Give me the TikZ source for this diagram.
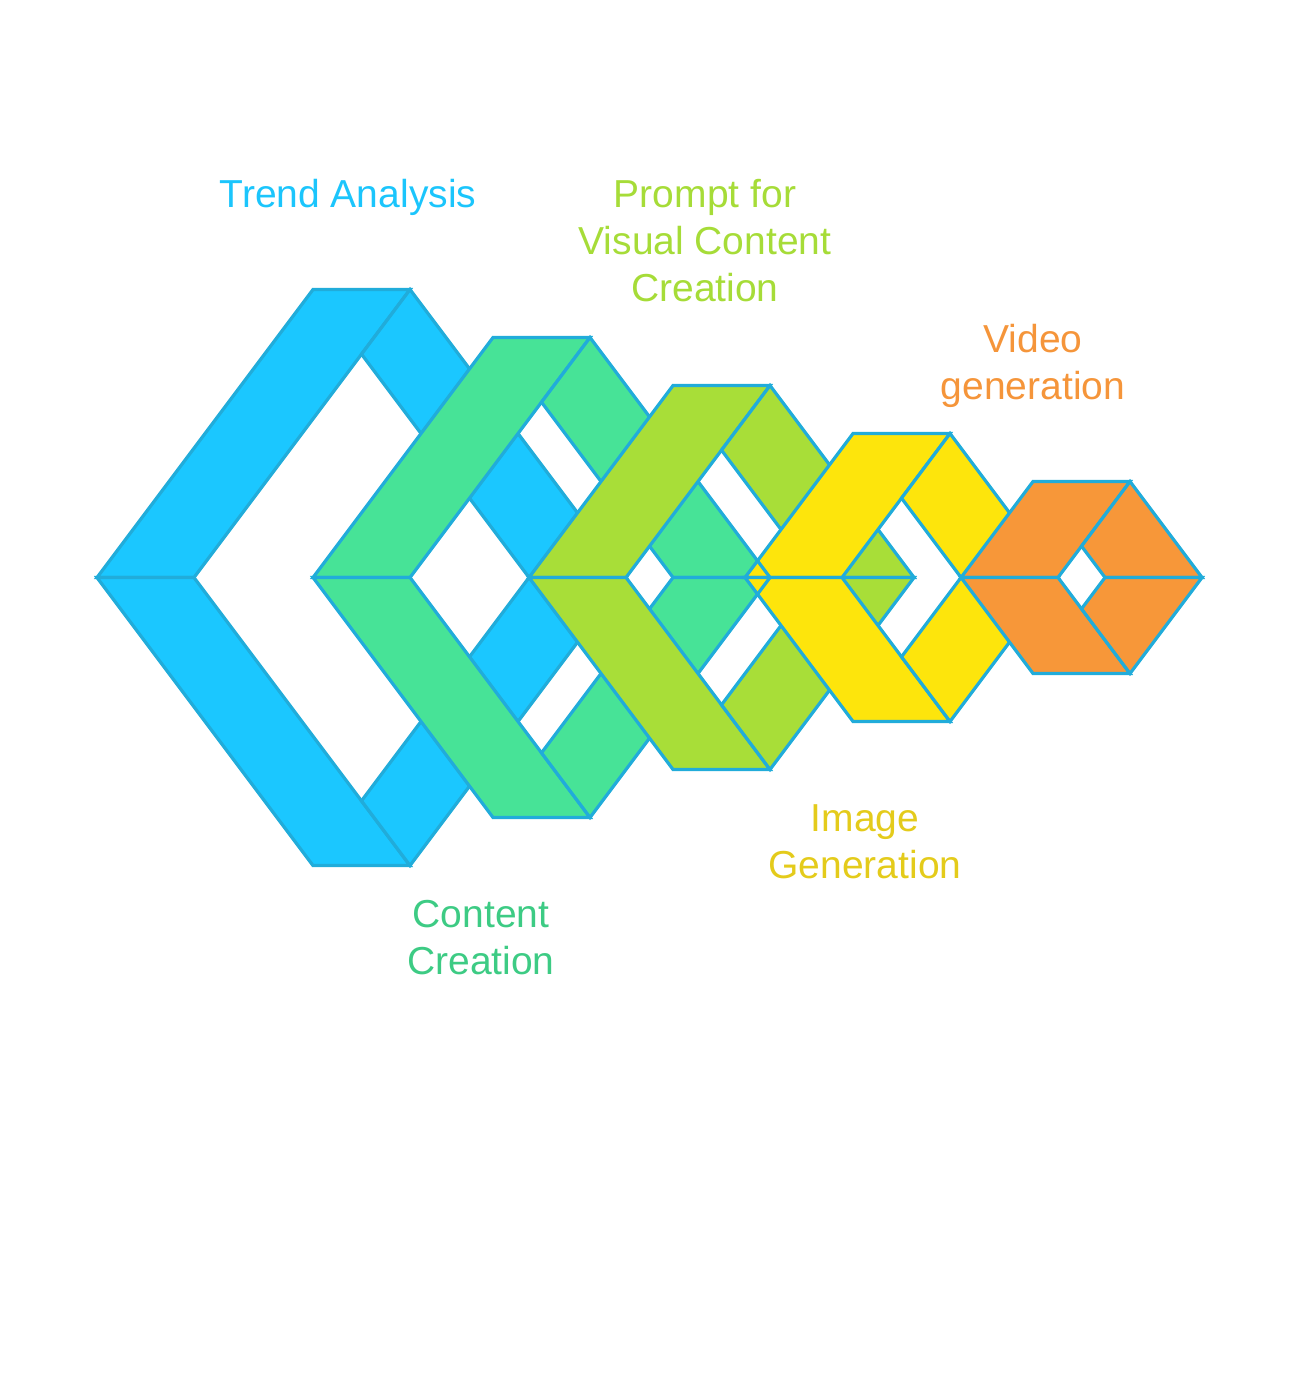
\documentclass[tikz,border=0pt]{standalone}
\usepackage{fontspec}
\setmainfont{Liberation Sans}
\usetikzlibrary{calc}
\definecolor{edgeC}{RGB}{33,172,218}
\definecolor{fBlue}{RGB}{27,199,255}
\definecolor{fGreen}{RGB}{71,227,151}
\definecolor{fLime}{RGB}{168,222,56}
\definecolor{fYellow}{RGB}{253,229,12}
\definecolor{fOrange}{RGB}{247,151,57}
\definecolor{tBlue}{RGB}{27,197,252}
\definecolor{tGreen}{RGB}{61,203,132}
\definecolor{tLime}{RGB}{166,220,56}
\definecolor{tYellow}{RGB}{228,203,27}
\definecolor{tOrange}{RGB}{245,149,58}
\newcommand{\shpW}{97}
\newcommand{\shpY}{577.5}
\newcommand{\ringshape}[4]{%
  \pgfmathsetmacro{\shpX}{#2}%
  \pgfmathsetmacro{\shpH}{#3}%
  \pgfmathsetmacro{\shpA}{0.75*#3}%
  \pgfmathsetmacro{\shpT}{#3*(1-\shpW/(2*\shpA))}%
  \coordinate (#1L) at (\shpX,\shpY);
  \coordinate (#1TL) at (\shpX+\shpA,\shpY-\shpH);
  \coordinate (#1TR) at (\shpX+\shpA+\shpW,\shpY-\shpH);
  \coordinate (#1R) at (\shpX+2*\shpA+\shpW,\shpY);
  \coordinate (#1BR) at (\shpX+\shpA+\shpW,\shpY+\shpH);
  \coordinate (#1BL) at (\shpX+\shpA,\shpY+\shpH);
  \coordinate (#1IL) at (\shpX+\shpW,\shpY);
  \coordinate (#1HR) at (\shpX+2*\shpA,\shpY);
  \coordinate (#1HT) at (\shpX+\shpA+\shpW/2,\shpY-\shpT);
  \coordinate (#1HB) at (\shpX+\shpA+\shpW/2,\shpY+\shpT);
  \path[face,fill=#4] (#1L) -- (#1TL) -- (#1TR) -- (#1IL) -- cycle;
  \path[face,fill=#4] (#1L) -- (#1IL) -- (#1BR) -- (#1BL) -- cycle;
  \path[face,fill=#4] (#1TR) -- (#1R) -- (#1HR) -- (#1HT) -- cycle;
  \path[face,fill=#4] (#1HB) -- (#1HR) -- (#1R) -- (#1BR) -- cycle;
}
\tikzset{
  edge/.style={draw=edgeC, line width=1.6pt, line join=miter},
  face/.style={edge},
  lbl/.style={anchor=north, inner sep=0pt, align=center,
    font=\fontsize{19.5pt}{23.5pt}\selectfont}
}
\begin{document}
\begin{tikzpicture}[x=0.5pt,y=-0.5pt]
\useasboundingbox (0,0) rectangle (1300,1396);
\ringshape{b}{97}{288}{fBlue}
\ringshape{g}{313}{240}{fGreen}
\ringshape{l}{529}{192}{fLime}
\ringshape{y}{745}{144}{fYellow}
\draw[edge] ($(gR)!0.0694!(gTR)$) -- (gR) -- ($(gR)!0.0694!(gBR)$);
\ringshape{o}{961}{96}{fOrange}
\node[lbl, text=tBlue] (tTrend) at (348,179) {Trend Analysis};
\node[lbl, text=tLime] (tPrompt) at (705,179) {Prompt for\\Visual Content\\Creation};
\node[lbl, text=tOrange] (tVideo) at (1033,324) {Video\\generation};
\node[lbl, text=tYellow] (tImage) at (865,804) {Image\\Generation};
\node[lbl, text=tGreen] (tContent) at (481,900) {Content\\Creation};
\end{tikzpicture}
\end{document}
